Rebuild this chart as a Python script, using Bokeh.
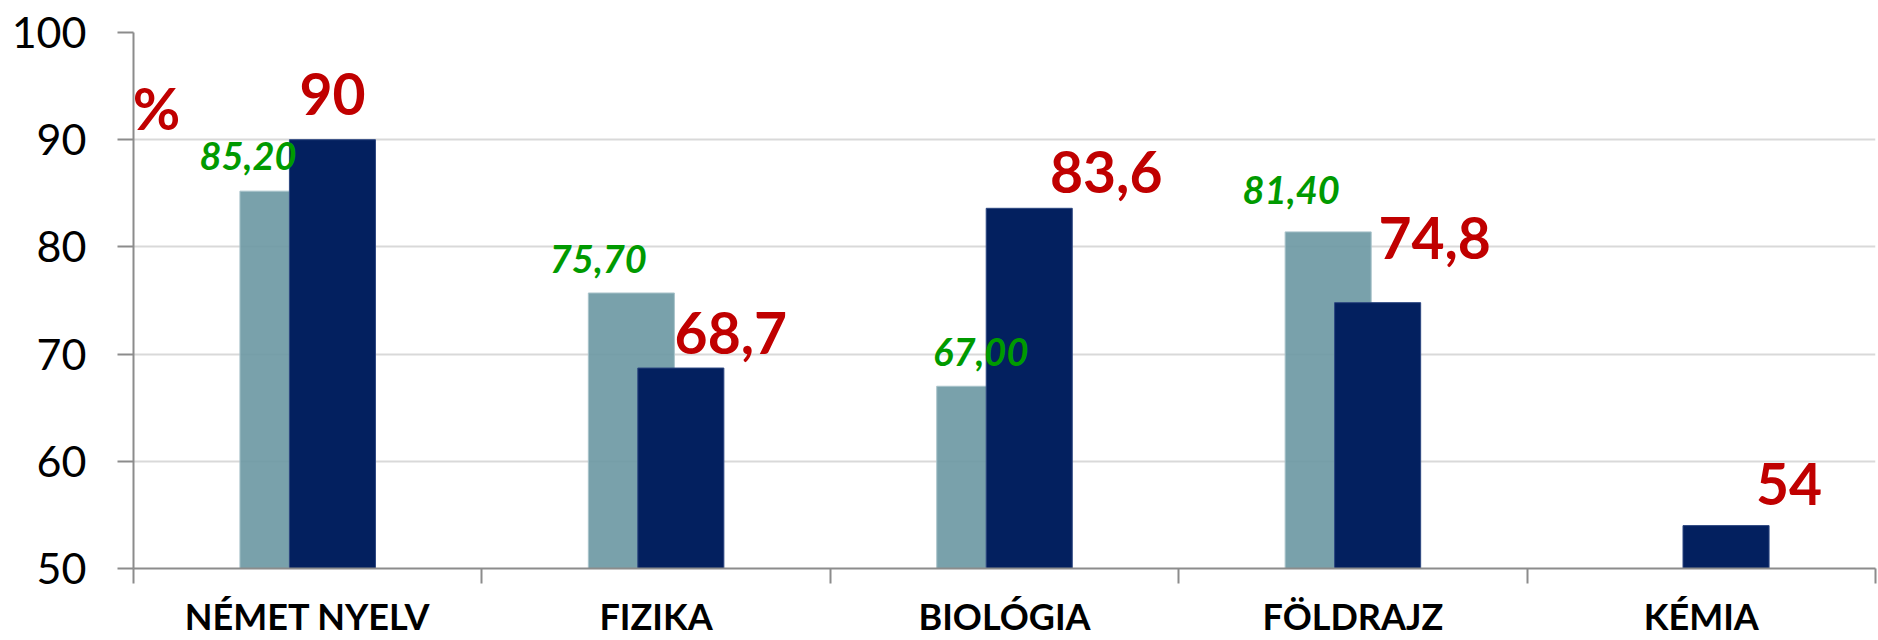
import numpy as np
from bokeh.plotting import figure
from bokeh.models import ColumnDataSource, FixedTicker, Range1d, Label
from bokeh.core.properties import value
from bokeh.embed import file_html
from bokeh.resources import INLINE

# ---- data ----
categories = ["NÉMET NYELV", "FIZIKA", "BIOLÓGIA", "FÖLDRAJZ", "KÉMIA"]
prev_values = [85.2, 75.7, 67.0, 81.4, None]     # light grey-blue series
curr_values = [90.0, 68.7, 83.6, 74.8, 54.0]     # navy series
y_ticks = [50, 60, 70, 80, 90, 100]

# ---- label placement (pixels, relative to bar top centre) ----
curr_label_dx = [0, 50, 77, 57, 63]
curr_label_dy = [-46, -35, -36, -65, -42]
prev_label_dx = [-35, -33, 1, -37, 0]
prev_label_dy = [-35, -34, -34, -42, 0]

BAR_W = 0.247
OFF = 0.071
GREY = "#6E99A4"
NAVY = "#03205F"
RED = "#C00000"
GREEN = "#009A00"
AXIS_GREY = "#8C8C8C"

n = len(categories)
idx = np.arange(n)

prev_x, prev_top, prev_txt, p_dx, p_dy = [], [], [], [], []
for i, v in enumerate(prev_values):
    if v is None:
        continue
    prev_x.append(i + 0.5 - OFF)
    prev_top.append(v)
    prev_txt.append(f"{v:.2f}".replace(".", ","))
    p_dx.append(prev_label_dx[i])
    p_dy.append(prev_label_dy[i])

prev_src = ColumnDataSource(dict(x=prev_x, top=prev_top, txt=prev_txt, dx=p_dx, dy=p_dy))
curr_src = ColumnDataSource(dict(
    x=list(idx + 0.5 + OFF),
    top=curr_values,
    txt=[f"{v:g}".replace(".", ",") for v in curr_values],
    dx=curr_label_dx,
    dy=curr_label_dy,
))

p = figure(width=1878, height=640, output_backend="svg", toolbar_location=None,
           x_range=Range1d(0, n), y_range=Range1d(y_ticks[0], y_ticks[-1]),
           min_border_left=133, min_border_right=3, min_border_top=32,
           min_border_bottom=72)
p.outline_line_color = None
p.background_fill_color = "white"
p.border_fill_color = "white"

p.vbar(x="x", top="top", bottom=y_ticks[0], width=BAR_W, source=prev_src,
       fill_color=GREY, fill_alpha=0.92, line_color="#A9C3CA", line_width=1)
p.vbar(x="x", top="top", bottom=y_ticks[0], width=BAR_W, source=curr_src,
       fill_color=NAVY, line_color="#2C4680", line_width=1)

p.text(x="x", y="top", text="txt", source=prev_src, x_offset="dx", y_offset="dy",
       text_align="center", text_baseline="alphabetic",
       text_font=value("Lato"), text_font_style="bold italic",
       text_font_size="38px", text_color=GREEN)
p.text(x="x", y="top", text="txt", source=curr_src, x_offset="dx", y_offset="dy",
       text_align="center", text_baseline="alphabetic",
       text_font=value("Lato"), text_font_style="bold",
       text_font_size="57px", text_color=RED)

p.add_layout(Label(x=0, y=93.0, x_offset=23, text="%", text_align="center",
                   text_baseline="alphabetic", text_font="Lato",
                   text_font_style="bold", text_font_size="58px",
                   text_color=RED))

# y axis
yax = p.yaxis[0]
yax.ticker = FixedTicker(ticks=y_ticks, minor_ticks=[])
yax.major_label_text_font = "Lato"
yax.major_label_text_font_size = "43px"
yax.major_label_text_color = "black"
yax.major_tick_out = 16
yax.major_tick_in = 0
yax.major_tick_line_color = AXIS_GREY
yax.major_tick_line_width = 2
yax.axis_line_color = AXIS_GREY
yax.axis_line_width = 2
yax.major_label_standoff = 31

# x axis: labels at category centres, tick marks at category boundaries
xax = p.xaxis[0]
xax.ticker = FixedTicker(ticks=list(idx + 0.5), minor_ticks=list(range(n + 1)))
xax.major_label_overrides = {float(i + 0.5): c for i, c in enumerate(categories)}
xax.major_label_text_font = "Lato"
xax.major_label_text_font_style = "bold"
xax.major_label_text_font_size = "36px"
xax.major_label_text_color = "black"
xax.major_tick_out = 0
xax.major_tick_in = 0
xax.major_tick_line_color = None
xax.minor_tick_out = 15
xax.minor_tick_in = 0
xax.minor_tick_line_color = AXIS_GREY
xax.minor_tick_line_width = 2
xax.axis_line_color = AXIS_GREY
xax.axis_line_width = 2
xax.major_label_standoff = 10

p.xgrid.grid_line_color = None
p.ygrid.grid_line_color = "#D9D9D9"
p.ygrid.grid_line_width = 2

open("out.html", "w").write(file_html(p, INLINE))
